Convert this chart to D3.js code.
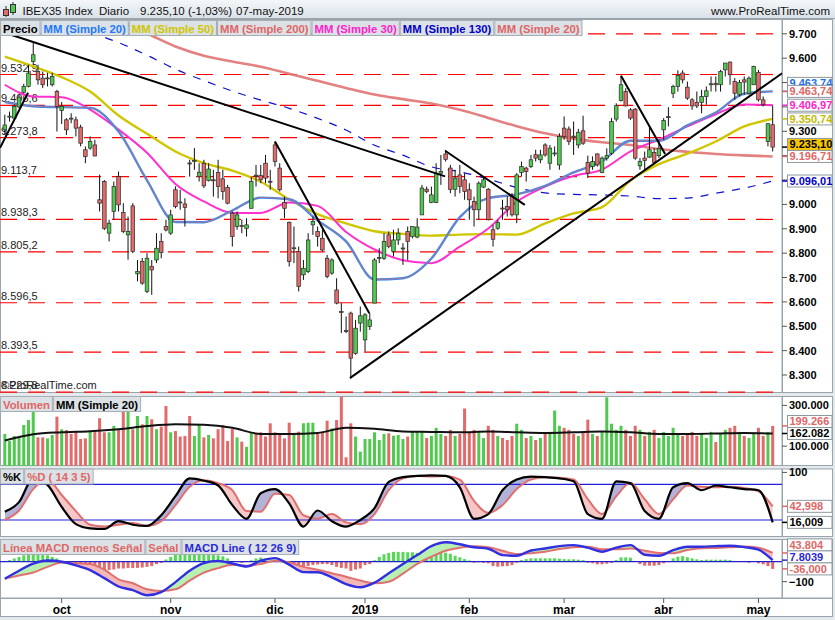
<!DOCTYPE html>
<html>
<head>
<meta charset="utf-8">
<title>IBEX35 Index - Diario</title>
<script src="https://cdn.jsdelivr.net/npm/d3@7/dist/d3.min.js"></script>
<style>
  body { margin: 0; background: #fff; }
  svg { display: block; font-family: "Liberation Sans", Arial, sans-serif; }
</style>
</head>
<body>
<div id="chart"></div>
<script>
// ---- data ----
const holidays = ['2018-12-25', '2018-12-26', '2019-01-01', '2019-04-19', '2019-04-22', '2019-05-01'];
const monthLabels = ['oct', 'nov', 'dic', '2019', 'feb', 'mar', 'abr', 'may'];

const open = [
  9306,9358,9354,9400,9460,9484,9586,9545,9518,9517, 9491,9463,9385,9347,9354,9347,9317,9224,9231,9244,
  9019,9094,8882,8971,9114,8967,8875,8994,8715,8766, 8642,8745,8772,8848,8909,8882,9060,9010,9002,9170,
  9176,9114,9169,9098,9101,9131,9105,9070,8964,8909, 8914,8902,8984,9120,9118,9169,9095,9244,9149,9008,
  8926,8820,8807,8711,8725,8916,8889,8861,8779,8718, 8649,8560,8483,8554,8389,8513,8444,8499,8595,8780,
  8779,8875,8807,8854,8820,8889,8868,8866,8957,9062, 9008,9008,9128,9207,9149,9062,9121,9101,9060,9012,
  8978,9071,9062,8896,8902,8985,8991,9032,8957,9131, 9149,9155,9204,9183,9244,9169,9210,9162,9313,9309,
  9280,9244,9302,9172,9155,9207,9131,9190,9210,9350, 9426,9463,9388,9391,9158,9190,9194,9213,9200,9306,
  9356,9456,9484,9539,9481,9429,9418,9418,9443,9493, 9497,9491,9552,9584,9504,9450,9511,9456,9491,9541,
  9429,9258,9327];
const high = [
  9368,9381,9410,9450,9495,9573,9662,9573,9545,9540, 9540,9470,9420,9354,9374,9360,9327,9238,9279,9265,
  9122,9100,8937,9094,9135,9005,8950,9005,8772,8780, 8800,8772,8882,8882,8937,8978,9074,9060,9025,9183,
  9231,9169,9183,9169,9142,9183,9142,9080,8971,8971, 8937,8943,9114,9162,9162,9203,9142,9258,9169,9032,
  8930,8909,8827,8772,8882,8950,8909,8896,8793,8779, 8697,8595,8540,8560,8526,8581,8554,8554,8779,8820,
  8882,8889,8896,8902,8841,8909,8910,8943,9080,9073, 9073,9169,9203,9224,9162,9142,9162,9128,9087,9032,
  9094,9114,9067,8916,8937,9019,9032,9046,9128,9176, 9155,9203,9224,9224,9251,9244,9238,9292,9361,9320,
  9340,9310,9364,9200,9197,9210,9197,9230,9354,9415, 9528,9477,9395,9395,9190,9217,9320,9231,9265,9354,
  9399,9491,9550,9550,9504,9436,9463,9470,9484,9525, 9525,9552,9580,9586,9518,9511,9525,9525,9569,9552,
  9443,9333,9405];
const low = [
  9285,9340,9345,9395,9455,9480,9573,9491,9477,9484, 9484,9299,9330,9285,9333,9279,9238,9169,9224,9197,
  8971,8895,8848,8937,8971,8882,8773,8800,8684,8670, 8636,8629,8759,8779,8889,8875,8984,8978,8909,9114,
  9142,9094,9067,9094,9032,9025,9019,9000,8827,8896, 8882,8868,8984,9073,9087,9087,9060,9155,9053,8943,
  8745,8759,8643,8690,8718,8875,8827,8807,8697,8711, 8590,8472,8472,8287,8383,8478,8396,8485,8595,8759,
  8772,8820,8786,8834,8752,8772,8861,8861,8957,9046, 9005,9005,9080,9176,9046,9032,9046,9019,8937,8909,
  8937,9067,8934,8827,8896,8937,8950,8950,8923,9114, 9094,9149,9176,9169,9196,9142,9197,9142,9265,9244,
  9203,9230,9244,9108,9142,9155,9128,9180,9203,9340, 9422,9402,9347,9183,9142,9142,9190,9169,9190,9265,
  9320,9436,9463,9497,9429,9388,9395,9374,9409,9463, 9463,9463,9525,9491,9429,9443,9450,9450,9491,9422,
  9402,9238,9217];
const close = [
  9326,9362,9402,9440,9484,9539,9614,9511,9491,9519, 9525,9402,9402,9306,9350,9313,9251,9197,9258,9199,
  9005,8902,8923,9074,8998,8889,8889,8807,8725,8677, 8779,8731,8820,8803,8895,8957,8991,9008,8988,9168,
  9180,9132,9076,9145,9100,9073,9053,9005,8868,8957, 8912,8916,9094,9118,9101,9108,9094,9176,9060,8984,
  8766,8822,8663,8738,8854,8930,8868,8813,8704,8772, 8595,8558,8478,8369,8492,8543,8547,8526,8772,8782,
  8848,8827,8854,8882,8821,8848,8909,8907,9067,9053, 9039,9128,9135,9185,9062,9108,9073,9053,9019,8978,
  9087,9101,8937,8857,8926,8984,8978,8957,9121,9155, 9135,9183,9190,9203,9203,9231,9211,9279,9279,9258,
  9279,9296,9251,9128,9176,9162,9190,9200,9340,9405, 9491,9404,9354,9190,9176,9180,9224,9173,9230,9344,
  9360,9484,9529,9511,9436,9404,9404,9443,9466,9495, 9491,9545,9580,9532,9456,9500,9502,9518,9566,9429,
  9409,9331,9235.1];

// volume in thousands
const volume = [
  160,125,150,143,204,228,273,143,143,138, 155,245,183,179,160,171,135,138,171,171,
  237,168,168,199,179,274,274,183,248,207, 248,232,183,196,297,168,174,147,150,248,
  150,207,143,155,138,183,204,125,184,143, 122,97,166,160,168,147,212,168,163,138,
  215,163,171,212,215,215,160,166,225,187, 228,343,45,212,147,73,135,135,168,130,
  160,163,151,155,135,147,171,171,170,140, 150,190,160,150,180,150,160,285,170,180,
  170,140,200,180,150,140,130,150,210,180, 140,150,130,140,160,170,275,200,190,180,
  160,150,170,230,160,150,170,340,210,180, 200,180,150,200,180,150,170,180,140,170,
  150,190,160,150,160,170,150,160,140,170, 120,160,180,190,200,170,150,140,160,190,
  150,170,199.266];

// moving averages, one value every 6 bars
const ma20 = [9420,9403,9399,9396,9299,9099,8928,8927,8975,9028,9021,8934,8848,8692,8697,8778,8948,9026,9041,9076,9131,9177,9261,9261,9324,9377,9454,9463.74];
const ma30 = [9491,9443,9440,9389,9307,9212,9084,9012,8965,8965,9008,8994,8887,8815,8771,8759,8827,8901,9011,9073,9117,9143,9218,9266,9320,9370,9410,9406.97];
const ma50 = [9606,9566,9522,9463,9365,9290,9217,9169,9139,9093,9020,8960,8922,8890,8879,8872,8876,8878,8876,8922,8963,8989,9098,9165,9208,9258,9320,9350.74];
const ma200 = [9751,9701,9648,9610,9586,9565,9536,9507,9478,9451,9432,9414,9388,9355,9321,9292,9270,9255,9244,9227,9216,9207,9201,9196.71]; // from bar 24
const ma130 = [9705,9664,9612,9555,9508,9465,9428,9394,9353,9305,9243,9202,9154,9134,9104,9069,9047,9041,9039,9034,9024,9026,9046,9067,9096.01]; // from bar 18
const volMA20 = [128,158,168,173,183,199,208,205,190,160,160,165,190,185,172,170,168,172,168,165,168,172,168,160,160,162,165,162.082];

// stochastic, one value every 3 bars
const stochK = [34,50,90,79,42,13,6,5,18,12,10,28,60,90,86,78,45,22,65,72,48,9,36,18,9,20,40,84,92,94,
  95,94,75,22,30,70,88,93,92,90,85,30,22,85,82,35,22,75,82,70,78,75,72,70,16.009];
const stochD = [20,36,72,88,62,35,12,9,12,15,10,18,45,76,87,82,70,35,34,64,62,28,22,30,16,13,30,70,90,94,
  93,94,88,52,32,45,72,88,92,91,88,55,30,60,82,55,30,55,78,76,75,76,74,68,42.998];

// MACD, one value every 3 bars; histogram one per bar
const macdLine = [-85,-45,-10,6,0,-18,-42,-82,-124,-142,-168,-152,-102,-45,-7,4,-9,-24,5,18,-15,-52,-53,-78,-112,-128,-105,-58,-12,33,
  78,97,87,72,65,33,30,56,66,78,83,70,50,70,83,35,30,58,75,75,78,80,73,60,7.8039];
const macdSignal = [-85,-69,-54,-26,-4,-8,-12,-40,-88,-108,-138,-146,-138,-95,-55,-32,-15,-20,-12,5,-3,-26,-40,-58,-75,-94,-108,-100,-60,-11,
  25,55,70,77,72,55,38,42,50,63,72,75,62,62,66,55,44,42,58,67,69,72,76,70,43.804];
const macdHist = [
  0,8,16,24,32,41,44,41,37,32, 24,16,4,-6,-12,-17,-22,-26,-34,-39,
  -39,-46,-42,-39,-34,-34,-32,-32,-31,-29, -26,-22,-12,-6,11,24,36,41,44,44,
  44,44,41,44,41,32,27,16,4,0, -6,-2,7,16,21,16,11,11,4,-6,
  -12,-17,-22,-26,-22,-17,-14,-12,-12,-17, -26,-31,-34,-46,-39,-34,-17,-12,7,24,
  37,44,49,49,49,47,47,44,52,53, 53,53,50,45,40,30,22,13,6,-5,
  -3,-6,-8,-22,-25,-23,-22,-17,-5,8, 13,17,17,17,17,17,17,15,13,12,
  12,10,8,-5,-8,-13,-13,-10,-6,8, 22,22,20,2,-12,-20,-20,-20,-17,-8,
  -2,17,25,28,22,17,12,8,10,10, 10,10,10,8,1,0,-2,-5,-1,-8,
  -13,-22,-36];

// horizontal levels and hand-drawn trend lines [bar, price, bar, price]
const levels = [9700, 9532.9, 9406.6, 9273.8, 9113.7, 8938.3, 8805.2, 8596.5, 8393.5, 8229.8];
const trendLines = [
  [-1, 9232, 4.9, 9458],
  [0, 9704, 92.9, 9115],
  [57, 9258, 76.9, 8553],
  [92.9, 9220, 109.7, 8998],
  [130, 9528, 139.3, 9207],
  [72.8, 8287, 164, 9538]
];

// ---- layout ----
const W = 835, H = 620, plotR = 782, axisR = 833;
const frame = '#9aa4ac';
const green = '#4fca4f', red = '#e26a6a', salmon = '#e06666';
const panels = {
  main: { top: 19, bottom: 393 },
  vol: { top: 396, bottom: 466 },
  stoch: { top: 468.5, bottom: 537 },
  macd: { top: 539, bottom: 598.5 }
};

const loc = d3.formatLocale({ decimal: ',', thousands: '.', grouping: [3], currency: ['', ''] });
const fInt = loc.format(',.0f');
const fLvl = loc.format(',.1f');

// trading calendar
const dates = [];
for (let d = new Date(Date.UTC(2018, 8, 13)); d <= Date.UTC(2019, 4, 7); d.setUTCDate(d.getUTCDate() + 1)) {
  const s = d.toISOString().slice(0, 10);
  if (d.getUTCDay() % 6 !== 0 && !holidays.includes(s)) dates.push(s);
}
const n = dates.length;

const x = d3.scaleLinear().domain([0, 162]).range([4.8, 4.8 + 162 * 4.74]);
const yP = d3.scaleLinear().domain([8300, 9700]).range([375, 33.8]);
const yV = d3.scaleLinear().domain([0, 300]).range([466.5, 405.4]);
const yS = d3.scaleLinear().domain([20, 80]).range([520, 484.3]);
const yM = d3.scaleLinear().domain([0, -100]).range([561.7, 581.7]);

const svg = d3.select('#chart').append('svg').attr('width', W).attr('height', H);
const defs = svg.append('defs');
const grad = defs.append('linearGradient').attr('id', 'titleGrad')
  .attr('x1', 0).attr('y1', 0).attr('x2', 0).attr('y2', 1);
grad.append('stop').attr('offset', '0%').attr('stop-color', '#f4f7f9');
grad.append('stop').attr('offset', '100%').attr('stop-color', '#d9e1e7');

svg.append('rect').attr('width', W).attr('height', H).attr('fill', '#e4e9ec');
svg.append('rect').attr('width', W).attr('height', 19).attr('fill', 'url(#titleGrad)');
svg.append('line').attr('x1', 0).attr('x2', W).attr('y1', 18.5).attr('y2', 18.5).attr('stroke', frame);

// title bar
const icon = svg.append('g');
icon.append('line').attr('x1', 6).attr('x2', 6).attr('y1', 6).attr('y2', 17).attr('stroke', '#333');
icon.append('rect').attr('x', 3.5).attr('y', 9.5).attr('width', 5).attr('height', 6).attr('fill', red).attr('stroke', '#333');
icon.append('line').attr('x1', 13).attr('x2', 13).attr('y1', 2).attr('y2', 15).attr('stroke', '#333');
icon.append('rect').attr('x', 10.5).attr('y', 4.5).attr('width', 5).attr('height', 8).attr('fill', green).attr('stroke', '#333');
[['IBEX35 Index', 22.5], ['Diario', 99], ['9.235,10 (-1,03%)', 140], ['07-may-2019', 236]].forEach(([t, px]) => {
  svg.append('text').attr('x', px).attr('y', 15).attr('font-size', 11.5).attr('fill', '#111').text(t);
});
svg.append('text').attr('x', 830).attr('y', 15).attr('text-anchor', 'end').attr('font-size', 11.5)
  .attr('fill', '#111').text('www.ProRealTime.com');

// panel frames and clips
Object.entries(panels).forEach(([k, p]) => {
  defs.append('clipPath').attr('id', 'clip-' + k).append('rect')
    .attr('x', 0).attr('y', p.top).attr('width', plotR).attr('height', p.bottom - p.top);
  svg.append('rect').attr('x', 0.5).attr('y', p.top + 0.5).attr('width', plotR - 0.5)
    .attr('height', p.bottom - p.top - 1).attr('fill', '#fff').attr('stroke', frame);
  svg.append('rect').attr('x', plotR + 0.5).attr('y', p.top + 0.5).attr('width', axisR - plotR - 1)
    .attr('height', p.bottom - p.top - 1).attr('fill', '#fff').attr('stroke', frame);
});
svg.append('rect').attr('x', 0.5).attr('y', 598.5).attr('width', axisR - 1).attr('height', 18)
  .attr('fill', '#fff').attr('stroke', frame);

const pts = (start, step, vals) => vals.map((v, k) => [start + k * step, v]);
function drawLine(g, data, y, color, width, dash, opacity) {
  g.append('path').datum(data)
    .attr('fill', 'none').attr('stroke', color).attr('stroke-width', width)
    .attr('stroke-dasharray', dash || null).attr('stroke-opacity', opacity || 1)
    .attr('stroke-linejoin', 'round')
    .attr('d', d3.line().x(d => x(d[0])).y(d => y(d[1])).curve(d3.curveMonotoneX));
}
function diffFill(g, id, a, b, y, top, bottom, colUp, colDown) {
  const data = a.map((d, k) => [d[0], d[1], b[k][1]]);
  const area = () => d3.area().x(d => x(d[0])).curve(d3.curveMonotoneX);
  defs.append('clipPath').attr('id', id + '-below').append('path')
    .attr('d', area().y0(bottom).y1(d => y(d[1]))(data));
  defs.append('clipPath').attr('id', id + '-above').append('path')
    .attr('d', area().y0(top).y1(d => y(d[1]))(data));
  g.append('path').attr('clip-path', `url(#${id}-below)`).attr('fill', colUp)
    .attr('d', area().y0(top).y1(d => y(d[2]))(data));
  g.append('path').attr('clip-path', `url(#${id}-above)`).attr('fill', colDown)
    .attr('d', area().y0(bottom).y1(d => y(d[2]))(data));
}

// ---- price panel ----
const gMain = svg.append('g').attr('clip-path', 'url(#clip-main)');
gMain.selectAll('line.level').data(levels).join('line')
  .attr('x1', 0).attr('x2', plotR).attr('y1', d => yP(d)).attr('y2', d => yP(d))
  .attr('stroke', '#ff0000').attr('stroke-width', 1.2).attr('stroke-dasharray', '17,11');
gMain.selectAll('text.level').data(levels.slice(1)).join('text')
  .attr('x', 1).attr('y', d => yP(d) - 3).attr('font-size', 11).attr('fill', '#222')
  .text(d => fLvl(d));
gMain.append('text').attr('x', 1).attr('y', 389).attr('font-size', 11).attr('fill', '#222')
  .text('©ProRealTime.com');

drawLine(gMain, pts(24, 6, ma200), yP, '#e07272', 2.6, null, 0.9);
drawLine(gMain, pts(18, 6, ma130), yP, '#1010d0', 1.2, '8,8');
drawLine(gMain, pts(0, 6, ma50), yP, '#cfc600', 2.4);
drawLine(gMain, pts(0, 6, ma30), yP, '#ff30cc', 2);
drawLine(gMain, pts(0, 6, ma20), yP, '#3a8cf0', 2.4);
drawLine(gMain, pts(0, 6, ma20), yP, salmon, 0.9, null, 0.7);

const candle = gMain.append('g').selectAll('g').data(d3.range(n)).join('g');
candle.append('line')
  .attr('x1', i => x(i)).attr('x2', i => x(i))
  .attr('y1', i => yP(high[i])).attr('y2', i => yP(low[i]))
  .attr('stroke', '#111').attr('stroke-width', 1);
candle.append('rect')
  .attr('x', i => x(i) - 1.8).attr('width', 3.6)
  .attr('y', i => yP(Math.max(open[i], close[i])))
  .attr('height', i => Math.max(1, Math.abs(yP(open[i]) - yP(close[i]))))
  .attr('fill', i => close[i] >= open[i] ? green : red)
  .attr('stroke', '#2a2a2a').attr('stroke-width', 0.7);

gMain.selectAll('line.trend').data(trendLines).join('line')
  .attr('x1', d => x(d[0])).attr('y1', d => yP(d[1]))
  .attr('x2', d => x(d[2])).attr('y2', d => yP(d[3]))
  .attr('stroke', '#000').attr('stroke-width', 2);

// ---- volume panel ----
const gVol = svg.append('g').attr('clip-path', 'url(#clip-vol)');
gVol.selectAll('rect').data(d3.range(n)).join('rect')
  .attr('x', i => x(i) - 1.5).attr('width', 3)
  .attr('y', i => yV(volume[i])).attr('height', i => yV(0) - yV(volume[i]))
  .attr('fill', i => close[i] >= open[i] ? green : red);
drawLine(gVol, pts(0, 6, volMA20), yV, '#111', 2);

// ---- stochastic panel ----
const gSto = svg.append('g').attr('clip-path', 'url(#clip-stoch)');
const kPts = pts(0, 3, stochK), dPts = pts(0, 3, stochD);
diffFill(gSto, 'sto', kPts, dPts, yS, panels.stoch.top, panels.stoch.bottom, '#b3b3da', '#f6c7c7');
[80, 20].forEach(v => gSto.append('line').attr('x1', 0).attr('x2', plotR)
  .attr('y1', yS(v)).attr('y2', yS(v)).attr('stroke', '#2020dd').attr('stroke-width', 1.2));
drawLine(gSto, dPts, yS, '#e07070', 2);
drawLine(gSto, kPts, yS, '#000', 2.2);

// ---- MACD panel ----
const gMacd = svg.append('g').attr('clip-path', 'url(#clip-macd)');
gMacd.selectAll('rect').data(d3.range(n)).join('rect')
  .attr('x', i => x(i) - 1.5).attr('width', 3)
  .attr('y', i => Math.min(yM(0), yM(macdHist[i])))
  .attr('height', i => Math.abs(yM(macdHist[i]) - yM(0)))
  .attr('fill', i => macdHist[i] >= 0 ? '#55d855' : red);
const mPts = pts(0, 3, macdLine), sPts = pts(0, 3, macdSignal);
diffFill(gMacd, 'macd', mPts, sPts, yM, panels.macd.top, panels.macd.bottom, '#b8f0b2', '#f4b8b8');
gMacd.append('line').attr('x1', 0).attr('x2', plotR).attr('y1', yM(0)).attr('y2', yM(0))
  .attr('stroke', '#2222cc').attr('stroke-width', 1.2);
drawLine(gMacd, sPts, yM, '#e07070', 2);
drawLine(gMacd, mPts, yM, '#3030e0', 2.4);

// ---- right axes: last-value boxes sit on top of the tick labels ----
const BOX_H = 12;
function layoutBoxes(items, y) {
  const ys = items.map(d => y(d.v));
  for (let k = items.length - 2; k >= 0; k--) {
    const gap = items[k].v === items[k + 1].v ? 8 : BOX_H;
    ys[k] = Math.min(ys[k], ys[k + 1] - gap);
  }
  return items.map((d, k) => Object.assign({ cy: ys[k], vy: y(d.v) }, d));
}
function ticks(values, y, fmt, boxes) {
  values.forEach(v => {
    const ty = y(v);
    svg.append('line').attr('x1', plotR).attr('x2', plotR + 5).attr('y1', ty).attr('y2', ty).attr('stroke', '#555');
    if (boxes.some(b => Math.abs(b.cy - ty) < 5)) return; // hidden under a value box
    svg.append('text').attr('x', plotR + 7).attr('y', ty + 4).attr('font-size', 11)
      .attr('font-weight', 'bold').attr('fill', '#000').text(fmt(v));
  });
}
function drawBoxes(boxes) {
  boxes.forEach(d => {
    svg.append('line').attr('x1', plotR).attr('x2', plotR + 5).attr('y1', d.vy).attr('y2', d.vy)
      .attr('stroke', d.line || d.color).attr('stroke-width', 1.5);
    svg.append('rect').attr('x', 787.5).attr('y', d.cy - BOX_H / 2).attr('width', 44.5).attr('height', BOX_H)
      .attr('fill', d.bg || '#fff').attr('stroke', '#8e989f');
    svg.append('text').attr('x', 789.5).attr('y', d.cy + 4).attr('font-size', 11)
      .attr('font-weight', 'bold').attr('fill', d.color).text(d.text);
  });
}
const mainBoxes = layoutBoxes([
  { v: ma20[ma20.length - 1], text: '9.463,74', color: '#1e6fe8' },
  { v: ma20[ma20.length - 1], text: '9.463,74', color: salmon },
  { v: ma30[ma30.length - 1], text: '9.406,97', color: '#ff22cc' },
  { v: ma50[ma50.length - 1], text: '9.350,74', color: '#c2ba00' },
  { v: close[n - 1], text: '9.235,10', color: '#000', bg: '#f7c600', line: '#000' },
  { v: ma200[ma200.length - 1], text: '9.196,71', color: salmon },
  { v: ma130[ma130.length - 1], text: '9.096,01', color: '#0000cc' }
], yP);
const volBoxes = layoutBoxes([
  { v: volume[n - 1], text: '199.266', color: salmon },
  { v: volMA20[volMA20.length - 1], text: '162.082', color: '#000' }
], yV);
const stoBoxes = layoutBoxes([
  { v: stochD[stochD.length - 1], text: '42,998', color: salmon },
  { v: stochK[stochK.length - 1], text: '16,009', color: '#000' }
], yS);
const macdBoxes = layoutBoxes([
  { v: macdSignal[macdSignal.length - 1], text: '43.804', color: salmon },
  { v: macdLine[macdLine.length - 1], text: '7.8039', color: '#2a2ad8' },
  { v: macdHist[n - 1], text: '-36,000', color: salmon }
], yM);
ticks(d3.range(8300, 9701, 100), yP, fInt, mainBoxes);
ticks([300, 100], yV, v => fInt(v * 1000), volBoxes);
ticks([100], yS, fInt, stoBoxes);
ticks([-100], yM, fInt, macdBoxes);
[mainBoxes, volBoxes, stoBoxes, macdBoxes].forEach(drawBoxes);

// ---- x axis ----
const monthStarts = d3.range(1, n).filter(i => dates[i].slice(5, 7) !== dates[i - 1].slice(5, 7));
monthStarts.forEach((i, k) => {
  svg.append('line').attr('x1', x(i)).attr('x2', x(i)).attr('y1', 598.5).attr('y2', 603).attr('stroke', '#555');
  svg.append('text').attr('x', x(i)).attr('y', 614).attr('text-anchor', 'middle')
    .attr('font-size', 12).attr('font-weight', 'bold').attr('fill', '#000').text(monthLabels[k]);
});

// ---- legends ----
function legend(y0, items) {
  let cx = 0.5;
  items.forEach(([label, color]) => {
    const r = svg.append('rect').attr('y', y0 + 0.5).attr('height', 15)
      .attr('fill', '#dbe1e5').attr('stroke', '#a6afb6');
    const t = svg.append('text').attr('x', cx + 2.5).attr('y', y0 + 12.5).attr('fill', color)
      .attr('font-size', 11.3).attr('font-weight', 'bold').text(label);
    const w = t.node().getComputedTextLength() + 5;
    r.attr('x', cx).attr('width', w);
    cx += w + 1;
  });
}
legend(panels.main.top + 1, [
  ['Precio', '#000'], ['MM (Simple 20)', '#1e78ff'], ['MM (Simple 50)', '#cfc600'],
  ['MM (Simple 200)', salmon], ['MM (Simple 30)', '#ff22cc'], ['MM (Simple 130)', '#0000cc'],
  ['MM (Simple 20)', salmon]
]);
legend(panels.vol.top, [['Volumen', salmon], ['MM (Simple 20)', '#000']]);
legend(panels.stoch.top, [['%K', '#000'], ['%D ( 14 3 5)', salmon]]);
legend(panels.macd.top, [['Línea MACD menos Señal', salmon], ['Señal', salmon], ['MACD Line ( 12 26 9)', '#2a2ad8']]);
</script>
</body>
</html>
